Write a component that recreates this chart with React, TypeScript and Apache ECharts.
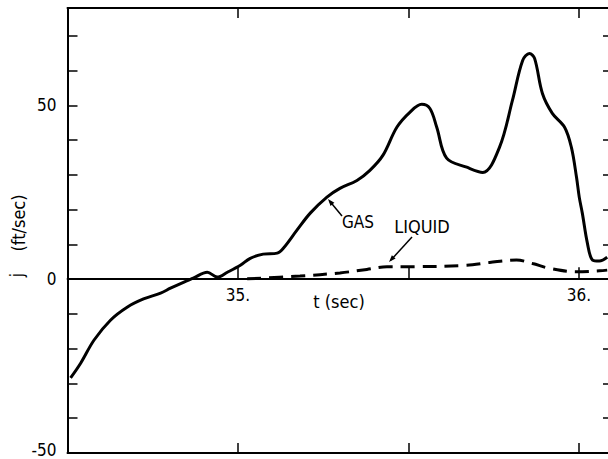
import React, { useEffect, useRef } from "react";
import * as echarts from "echarts";

const gasT = [34.509, 34.539, 34.578, 34.626, 34.676, 34.723, 34.773, 34.802, 34.84, 34.869, 34.91, 34.939, 34.969, 35.007, 35.036, 35.074, 35.115, 35.133, 35.173, 35.212, 35.261, 35.299, 35.349, 35.387, 35.425, 35.466, 35.504, 35.539, 35.563, 35.583, 35.612, 35.671, 35.718, 35.767, 35.805, 35.835, 35.855, 35.87, 35.893, 35.922, 35.958, 35.978, 35.993, 36.001, 36.01, 36.025, 36.04, 36.06, 36.083];
const gasJ = [-28.4, -24.1, -17.5, -11.8, -8.0, -5.7, -4.0, -2.6, -0.9, 0.3, 2.0, 0.6, 2.0, 4.0, 6.0, 7.2, 7.5, 8.9, 14.1, 19.0, 23.6, 26.1, 28.4, 31.3, 35.6, 43.7, 48.0, 50.3, 49.1, 43.7, 34.8, 32.2, 30.7, 37.9, 51.4, 62.9, 64.9, 63.5, 53.4, 47.7, 43.7, 37.9, 29.3, 23.6, 19.0, 10.3, 5.5, 5.2, 6.3];

const liqT = [35.027, 35.182, 35.299, 35.378, 35.437, 35.513, 35.671, 35.738, 35.817, 35.864, 35.914, 35.993, 36.06, 36.083];
const liqJ = [0.1, 0.9, 1.8, 2.8, 3.6, 3.6, 4.0, 4.8, 5.5, 4.5, 3.1, 2.1, 2.4, 2.6];

const yTickLabels = [-50, 0, 50];
const xTickLabels = [35, 36];

const FONT = "'Liberation Sans Narrow', 'DejaVu Sans Condensed', 'Liberation Sans', sans-serif";

// plot geometry (pixels inside the 620-wide chart div)
const GL = 67.5, GR = 7, GT = 8, GB = 6, H = 459;
const YMIN = -50, YMAX = 78;
const zeroY = GT + (YMAX / (YMAX - YMIN)) * (H - GT - GB);

export default function App() {
  const ref = useRef<HTMLDivElement>(null);
  useEffect(() => {
    if (!ref.current) return;
    const chart = echarts.init(ref.current, null, { renderer: "svg" });
    const axisLine = { onZero: false, lineStyle: { color: "#000", width: 2 } };
    const tick = { inside: true, length: 10, lineStyle: { color: "#000", width: 1.5 } };
    const baseX = {
      type: "value" as const,
      min: 34.5,
      max: 36.1,
      interval: 0.5,
      splitLine: { show: false },
    };
    const baseY = {
      type: "value" as const,
      min: YMIN,
      max: YMAX,
      interval: 10,
      splitLine: { show: false },
    };
    chart.setOption({
      animation: false,
      backgroundColor: "#fff",
      grid: [
        { left: GL, right: GR, top: GT, bottom: GB, containLabel: false, outerBoundsMode: "none" },
        { left: GL, right: GR, top: GT, height: zeroY - GT, containLabel: false, outerBoundsMode: "none" },
      ],
      xAxis: [
        { ...baseX, gridIndex: 0, position: "bottom", axisLine, axisTick: tick, axisLabel: { show: false } },
        { ...baseX, gridIndex: 0, position: "top", axisLine, axisTick: tick, axisLabel: { show: false } },
        {
          ...baseX,
          gridIndex: 1,
          position: "bottom",
          axisLine: { onZero: false, lineStyle: { color: "#000", width: 1.8 } },
          axisTick: { inside: true, length: 12, lineStyle: { color: "#000", width: 1.5 } },
          axisLabel: {
            margin: 7,
            color: "#000",
            fontSize: 17,
            fontFamily: FONT,
            formatter: (v: number) => {
              const hit = xTickLabels.find((t) => Math.abs(t - v) < 1e-6);
              return hit !== undefined ? hit + "." : "";
            },
          },
        },
      ],
      yAxis: [
        {
          ...baseY,
          gridIndex: 0,
          position: "left",
          axisLine,
          axisTick: tick,
          axisLabel: {
            margin: 11,
            color: "#000",
            fontSize: 17,
            fontFamily: FONT,
            formatter: (v: number) => {
              if (!yTickLabels.includes(v)) return "";
              return v === YMIN ? "{low|" + v + "}" : String(v);
            },
            rich: {
              low: { fontSize: 17, fontFamily: FONT, color: "#000", lineHeight: 17, padding: [0, 0, 6, 0] },
            },
          },
        },
        { ...baseY, gridIndex: 0, position: "right", axisLine, axisTick: tick, axisLabel: { show: false } },
        { type: "value", gridIndex: 1, min: 0, max: YMAX, show: false },
      ],
      series: [
        {
          name: "GAS",
          type: "line",
          xAxisIndex: 0,
          yAxisIndex: 0,
          data: gasT.map((t, i) => [t, gasJ[i]]),
          smooth: 0.35,
          showSymbol: false,
          symbol: "none",
          lineStyle: { color: "#000", width: 3 },
          z: 5,
        },
        {
          name: "LIQUID",
          type: "line",
          xAxisIndex: 0,
          yAxisIndex: 0,
          data: liqT.map((t, i) => [t, liqJ[i]]),
          smooth: 0.35,
          showSymbol: false,
          symbol: "none",
          lineStyle: { color: "#000", width: 3, type: [14, 8] },
          z: 5,
        },
      ],
      graphic: [
        { type: "text", x: 339, y: 301, style: { text: "t (sec)", fontSize: 18, fontFamily: FONT, fill: "#000", align: "center", verticalAlign: "middle" } },
        { type: "text", x: 17, y: 275, rotation: Math.PI / 2, style: { text: "j", fontSize: 17, fontFamily: FONT, fill: "#000", align: "center", verticalAlign: "middle" } },
        { type: "text", x: 18, y: 223, rotation: Math.PI / 2, style: { text: "(ft/sec)", fontSize: 18, fontFamily: FONT, fill: "#000", align: "center", verticalAlign: "middle" } },
        { type: "text", x: 358, y: 222, style: { text: "GAS", fontSize: 17, fontFamily: FONT, fill: "#000", align: "center", verticalAlign: "middle" } },
        { type: "text", x: 422, y: 226, style: { text: "LIQUID", fontSize: 18, fontFamily: FONT, fill: "#000", align: "center", verticalAlign: "middle" } },
        { type: "line", shape: { x1: 342, y1: 216, x2: 330, y2: 201.5 }, style: { stroke: "#000", lineWidth: 1.5 } },
        { type: "polygon", shape: { points: [[328, 199], [334.4, 202.8], [330.5, 206.0]] }, style: { fill: "#000" } },
        { type: "line", shape: { x1: 412, y1: 237, x2: 391, y2: 260 }, style: { stroke: "#000", lineWidth: 1.5 } },
        { type: "polygon", shape: { points: [[389, 262], [395.6, 258.6], [391.9, 255.2]] }, style: { fill: "#000" } },
      ],
    });
    return () => chart.dispose();
  }, []);
  return (
    <div style={{ position: "fixed", left: 0, top: 0, width: 608, height: 459, overflow: "hidden", background: "#fff" }}>
      <div ref={ref} style={{ width: 620, height: 459 }} />
    </div>
  );
}
